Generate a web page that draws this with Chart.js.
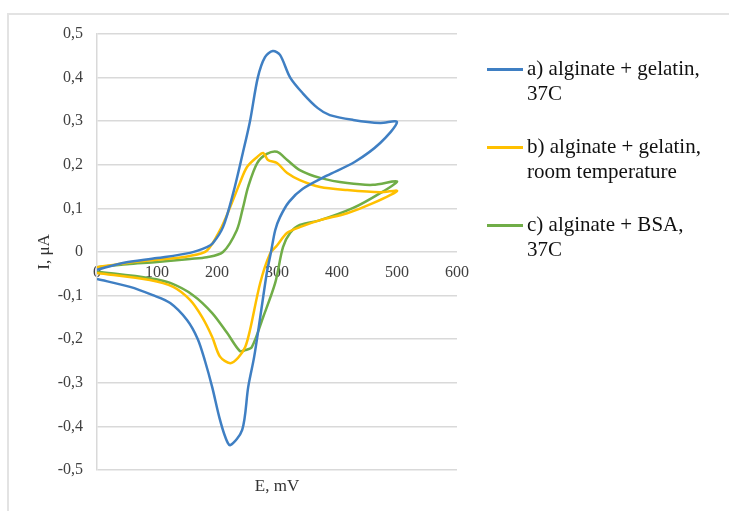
<!DOCTYPE html>
<html lang="en">
<head>
    <meta charset="UTF-8">
    <title>Cyclic voltammograms</title>
    <script src="https://cdn.jsdelivr.net/npm/chart.js"></script>
    <style>
        body {
            margin: 0;
            background: #fff;
            font-family: "Liberation Serif", "Times New Roman", serif;
        }
        #wrap {
            position: relative;
            width: 729px;
            height: 511px;
            overflow: hidden;
        }
        #frame {
            position: absolute;
            left: 7px;
            top: 13px;
            width: 800px;
            height: 600px;
            border: 2px solid #e3e3e3;
        }
        canvas {
            position: absolute;
            left: 0;
            top: 0;
        }
        #legend {
            position: absolute;
            left: 487px;
            top: 56px;
        }
        .item {
            display: flex;
            align-items: flex-start;
            margin-bottom: 28px;
        }
        .swatch {
            width: 36px;
            height: 3px;
            margin-top: 12px;
            margin-right: 4px;
        }
        .txt {
            font-size: 21px;
            line-height: 25px;
            color: #111;
        }
    </style>
</head>
<body>
<div id="wrap">
    <div id="frame"></div>
    <canvas id="cv" width="729" height="511"></canvas>
    <div id="legend"></div>
</div>

<script>
    // legend names (one entry per line)
    const seriesNames = [
        ['a) alginate + gelatin,', '37C'],
        ['b) alginate + gelatin,', 'room temperature'],
        ['c) alginate + BSA,', '37C']
    ];

    // a) alginate + gelatin, 37C : forward scan then return scan
    const eA = [0, 43, 100, 155, 183, 193, 210, 227, 243, 255, 268, 280, 293, 305, 322, 343, 368, 388, 427, 472, 500,
        472, 430, 383, 343, 320, 305, 297, 290, 283, 272, 262, 252, 242, 222, 214, 204, 192, 180, 168, 150, 122, 93, 55, 0];
    const iA = [-0.041, -0.025, -0.014, -0.002, 0.011, 0.02, 0.057, 0.135, 0.227, 0.30, 0.40, 0.447, 0.461, 0.452, 0.40, 0.364, 0.33, 0.314, 0.303, 0.296, 0.298,
        0.25, 0.207, 0.175, 0.145, 0.115, 0.08, 0.05, 0.0, -0.048, -0.15, -0.24, -0.31, -0.408, -0.443, -0.425, -0.38, -0.31, -0.25, -0.2, -0.156, -0.117, -0.099, -0.08, -0.062];

    // b) alginate + gelatin, room temperature
    const eB = [0, 50, 100, 155, 183, 205, 222, 238, 250, 267, 277, 285, 300, 317, 338, 372, 417, 472, 500,
        460, 417, 372, 338, 317, 300, 288, 272, 255, 247, 235, 222, 205, 192, 175, 155, 127, 88, 0];
    const iB = [-0.035, -0.025, -0.018, -0.009, 0.003, 0.05, 0.103, 0.158, 0.195, 0.218, 0.227, 0.211, 0.204, 0.181, 0.165, 0.149, 0.142, 0.137, 0.14,
        0.112, 0.089, 0.073, 0.057, 0.044, 0.015, -0.005, -0.071, -0.179, -0.218, -0.243, -0.255, -0.24, -0.195, -0.149, -0.11, -0.08, -0.064, -0.048];

    // c) alginate + BSA, 37C
    const eC = [0, 50, 100, 155, 183, 210, 233, 243, 252, 267, 283, 300, 317, 338, 372, 417, 460, 500,
        472, 427, 372, 338, 322, 310, 297, 277, 258, 247, 238, 217, 192, 160, 122, 88, 0];
    const iC = [-0.035, -0.028, -0.023, -0.016, -0.012, 0.0, 0.05, 0.1, 0.15, 0.204, 0.225, 0.23, 0.211, 0.188, 0.17, 0.158, 0.154, 0.162,
        0.135, 0.101, 0.073, 0.062, 0.044, 0.011, -0.071, -0.149, -0.218, -0.225, -0.227, -0.186, -0.14, -0.099, -0.071, -0.06, -0.045];

    const xTicks = [0, 100, 200, 300, 400, 500, 600];
    const yTicks = [-0.5, -0.4, -0.3, -0.2, -0.1, 0, 0.1, 0.2, 0.3, 0.4, 0.5];

    const toPoints = (xs, ys) => xs.map((x, i) => ({ x: x, y: ys[i] }));

    const datasets = [
        { label: seriesNames[0].join(' '), data: toPoints(eA, iA), borderColor: '#3f7fc3' },
        { label: seriesNames[1].join(' '), data: toPoints(eB, iB), borderColor: '#ffc000' },
        { label: seriesNames[2].join(' '), data: toPoints(eC, iC), borderColor: '#70ad47' }
    ].map(d => Object.assign(d, {
        showLine: true,
        pointRadius: 0,
        borderWidth: 2.5,
        tension: 0.3,
        fill: false
    }));

    // legend as html, so the two-line labels sit like the original
    const legend = document.getElementById('legend');
    datasets.forEach((d, i) => {
        const item = document.createElement('div');
        item.className = 'item';
        const sw = document.createElement('span');
        sw.className = 'swatch';
        sw.style.background = d.borderColor;
        const txt = document.createElement('div');
        txt.className = 'txt';
        txt.innerHTML = seriesNames[i].join('<br>');
        item.appendChild(sw);
        item.appendChild(txt);
        legend.appendChild(item);
    });

    const tickFont = { family: 'Liberation Serif', size: 16 };
    const titleFont = { family: 'Liberation Serif', size: 17 };

    new Chart(document.getElementById('cv'), {
        type: 'scatter',
        data: { datasets: datasets },
        options: {
            responsive: false,
            devicePixelRatio: 1,
            animation: false,
            layout: { padding: { top: 34, right: 272, bottom: 0, left: 0 } },
            plugins: {
                legend: { display: false },
                tooltip: { enabled: false }
            },
            scales: {
                x: {
                    type: 'linear',
                    position: { y: 0 },
                    min: 0,
                    max: 600,
                    afterBuildTicks: s => { s.ticks = xTicks.map(v => ({ value: v })); },
                    grid: { display: false, drawTicks: false },
                    border: { display: false },
                    ticks: { padding: 11, color: '#404040', font: tickFont, maxRotation: 0, autoSkip: false }
                },
                x2: {
                    type: 'linear',
                    position: 'bottom',
                    min: 0,
                    max: 600,
                    afterFit: s => { s.height = 41; },
                    grid: { display: false, drawTicks: false },
                    border: { display: false },
                    ticks: { display: false },
                    title: { display: true, text: 'E, mV', color: '#333', font: titleFont, padding: { top: 0, bottom: 14 } }
                },
                y: {
                    type: 'linear',
                    position: 'left',
                    min: -0.5,
                    max: 0.5,
                    afterBuildTicks: s => { s.ticks = yTicks.map(v => ({ value: v })); },
                    afterFit: s => { s.width = 97; },
                    grid: { color: '#d9d9d9', lineWidth: 1.5, drawTicks: false },
                    border: { display: true, color: '#d9d9d9', width: 1.5 },
                    ticks: {
                        padding: 14,
                        color: '#404040',
                        font: tickFont,
                        callback: v => String(v).replace('.', ',')
                    },
                    title: { display: true, text: 'I, μA', color: '#333', font: titleFont, padding: { top: 34, bottom: 0 } }
                }
            }
        }
    });
</script>
</body>
</html>
